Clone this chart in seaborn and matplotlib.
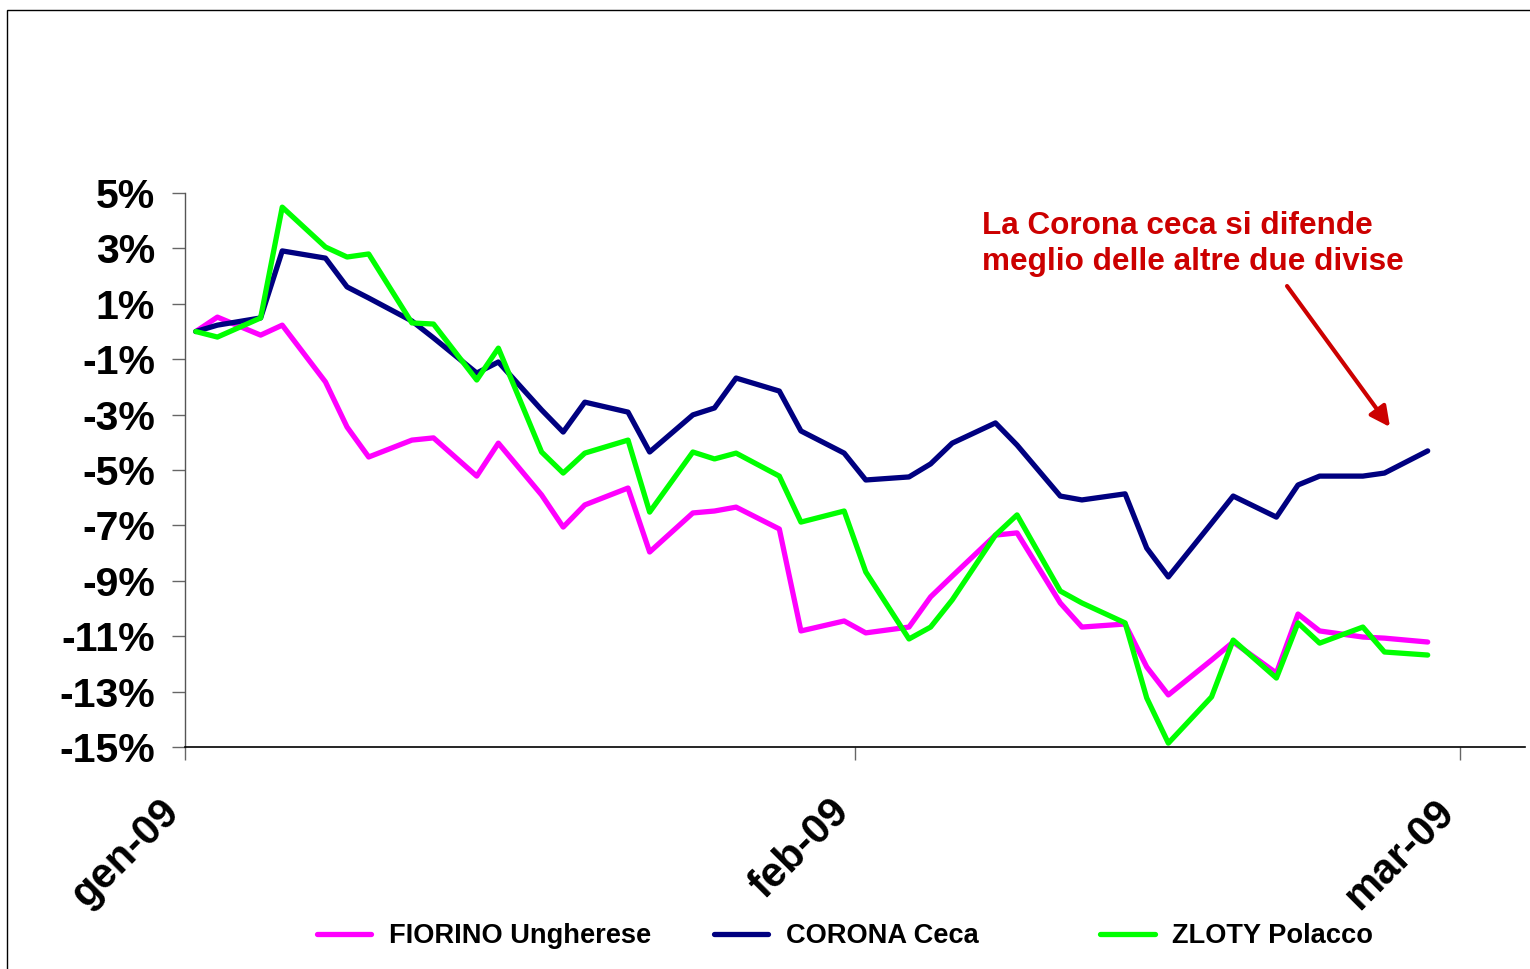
import pandas as pd
import matplotlib
matplotlib.use("Agg")
import matplotlib.pyplot as plt
import matplotlib.transforms as mtransforms
import seaborn as sns
from matplotlib.patches import Rectangle

# trading days plotted (dates)
DATES = [
    "2009-01-01", "2009-01-02", "2009-01-04", "2009-01-05", "2009-01-07",
    "2009-01-08", "2009-01-09", "2009-01-11", "2009-01-12", "2009-01-14",
    "2009-01-15", "2009-01-17", "2009-01-18", "2009-01-19", "2009-01-21",
    "2009-01-22", "2009-01-24", "2009-01-25", "2009-01-26", "2009-01-28",
    "2009-01-29", "2009-01-31", "2009-02-01", "2009-02-03", "2009-02-04",
    "2009-02-05", "2009-02-07", "2009-02-08", "2009-02-10", "2009-02-11",
    "2009-02-13", "2009-02-14", "2009-02-15", "2009-02-17", "2009-02-18",
    "2009-02-20", "2009-02-21", "2009-02-22", "2009-02-24", "2009-02-25",
    "2009-02-27",
]

# % change vs. start of year
FIORINO = [
    0.0, 0.52, -0.13, 0.23, -1.82, -3.45, -4.53, -3.92, -3.84, -5.22,
    -4.03, -5.90, -7.06, -6.26, -5.65, -7.96, -6.55, -6.48, -6.34, -7.13,
    -10.81, -10.45, -10.88, -10.67, -9.58, -8.83, -7.35, -7.27, -9.80, -10.67,
    -10.56, -12.11, -13.12, -11.86, -11.21, -12.33, -10.20, -10.81, -11.03, -11.07,
    -11.21,
]
CORONA = [
    0.0, 0.23, 0.49, 2.91, 2.65, 1.61, 1.21, 0.38, -0.23, -1.50,
    -1.10, -2.83, -3.63, -2.55, -2.91, -4.35, -3.01, -2.76, -1.68, -2.15,
    -3.59, -4.39, -5.36, -5.25, -4.78, -4.03, -3.30, -4.10, -5.94, -6.08,
    -5.86, -7.82, -8.86, -6.92, -5.94, -6.70, -5.54, -5.22, -5.22, -5.11,
    -4.31,
]
ZLOTY = [
    0.0, -0.20, 0.49, 4.49, 3.05, 2.69, 2.80, 0.31, 0.27, -1.75,
    -0.60, -4.35, -5.11, -4.39, -3.92, -6.52, -4.35, -4.60, -4.39, -5.22,
    -6.88, -6.48, -8.68, -11.10, -10.67, -9.69, -7.35, -6.62, -9.37, -9.80,
    -10.52, -13.23, -14.86, -13.19, -11.14, -12.51, -10.52, -11.25, -10.67, -11.57,
    -11.68,
]

SERIES = ["FIORINO Ungherese", "CORONA Ceca", "ZLOTY Polacco"]
COLORS = ["#FF00FF", "#000080", "#00FF00"]

MONTH_TICKS = ["2009-01-01", "2009-02-01", "2009-03-01"]
MONTH_LABELS = ["gen-09", "feb-09", "mar-09"]
Y_TICKS = [5, 3, 1, -1, -3, -5, -7, -9, -11, -13, -15]

NOTE = "La Corona ceca si difende\nmeglio delle altre due divise"

# ---------------------------------------------------------------------------
frames = []
for name, vals in zip(SERIES, [FIORINO, CORONA, ZLOTY]):
    frames.append(pd.DataFrame({"date": pd.to_datetime(DATES), "value": vals,
                                "serie": name}))
df = pd.concat(frames, ignore_index=True)
# excel style: each date sits in the middle of its day slot
df["x"] = df["date"] + pd.Timedelta(hours=12)

sns.set_style("white")
plt.rcParams["font.family"] = ["Liberation Sans", "DejaVu Sans"]
plt.rcParams["text.color"] = "black"
plt.rcParams["xtick.color"] = "black"
plt.rcParams["ytick.color"] = "black"

fig = plt.figure(figsize=(15.3, 9.69), dpi=100)
ax = fig.add_axes([0.1209, 0.2291, 0.9967 - 0.1209, 0.8008 - 0.2291])

sns.lineplot(data=df, x="x", y="value", hue="serie", hue_order=SERIES,
             palette=COLORS, linewidth=3.8, estimator=None, sort=False,
             ax=ax)
for ln in ax.lines:
    ln.set_solid_capstyle("round")
    ln.set_solid_joinstyle("round")

ax.set_xlim(pd.Timestamp("2009-01-01"), pd.Timestamp("2009-03-04"))
ax.set_ylim(-15, 5)
ax.set_xticks(pd.to_datetime(MONTH_TICKS))
ax.set_xticklabels(MONTH_LABELS, rotation=45, ha="right", va="center",
                   rotation_mode="anchor", fontsize=30, fontweight="bold")
ax.set_yticks(Y_TICKS)
ax.set_yticklabels([f"{t}%" for t in Y_TICKS], fontsize=29.5,
                   fontweight="bold")
ax.set_xlabel("")
ax.set_ylabel("")

ax.tick_params(axis="y", direction="out", length=9.5, width=1,
               color="#666666", labelcolor="black", pad=12)
ax.tick_params(axis="x", direction="out", length=9.5, width=1,
               color="#666666", labelcolor="black", pad=33)
ax.tick_params(left=True, bottom=True)

# nudge the rotated month labels left of their ticks
shift = mtransforms.ScaledTranslation(-0.12, 0, fig.dpi_scale_trans)
for lab in ax.get_xticklabels():
    lab.set_transform(lab.get_transform() + shift)

for s in ["top", "right"]:
    ax.spines[s].set_visible(False)
ax.spines["left"].set_color("#555555")
ax.spines["bottom"].set_color("black")
ax.spines["left"].set_linewidth(1)
ax.spines["bottom"].set_linewidth(1.2)

handles, labels = ax.get_legend_handles_labels()
ax.get_legend().remove()
# excel spaces the legend entries unevenly: one small legend per entry
legend_left = [0.2072, 0.4667, 0.7190]
for h, lab, x0 in zip(handles, labels, legend_left):
    leg = fig.legend([h], [lab], loc="center left", bbox_to_anchor=(x0, 0.034),
                     frameon=False, handlelength=2.0, handletextpad=0.66,
                     borderpad=0, borderaxespad=0,
                     prop={"weight": "bold", "size": 19.6})

# annotation
fig.text(0.6418, 1 - 211 / 969, NOTE, color="#CC0000", fontsize=22.7,
         fontweight="bold", va="top", ha="left", linespacing=1.28)
ax.annotate("", xy=(0.9085, 0.5593), xycoords="figure fraction",
            xytext=(0.8412, 0.7048), textcoords="figure fraction",
            arrowprops=dict(arrowstyle="-|>", color="#CC0000", lw=3,
                            mutation_scale=30, shrinkA=0, shrinkB=0))

# outer frame (only left and top edges fall inside the picture)
fig.patches.append(Rectangle((0.0049, -0.05), 1.1, 1.0397,
                             transform=fig.transFigure, fill=False,
                             edgecolor="black", linewidth=1))

fig.savefig("out.png", dpi=100)
